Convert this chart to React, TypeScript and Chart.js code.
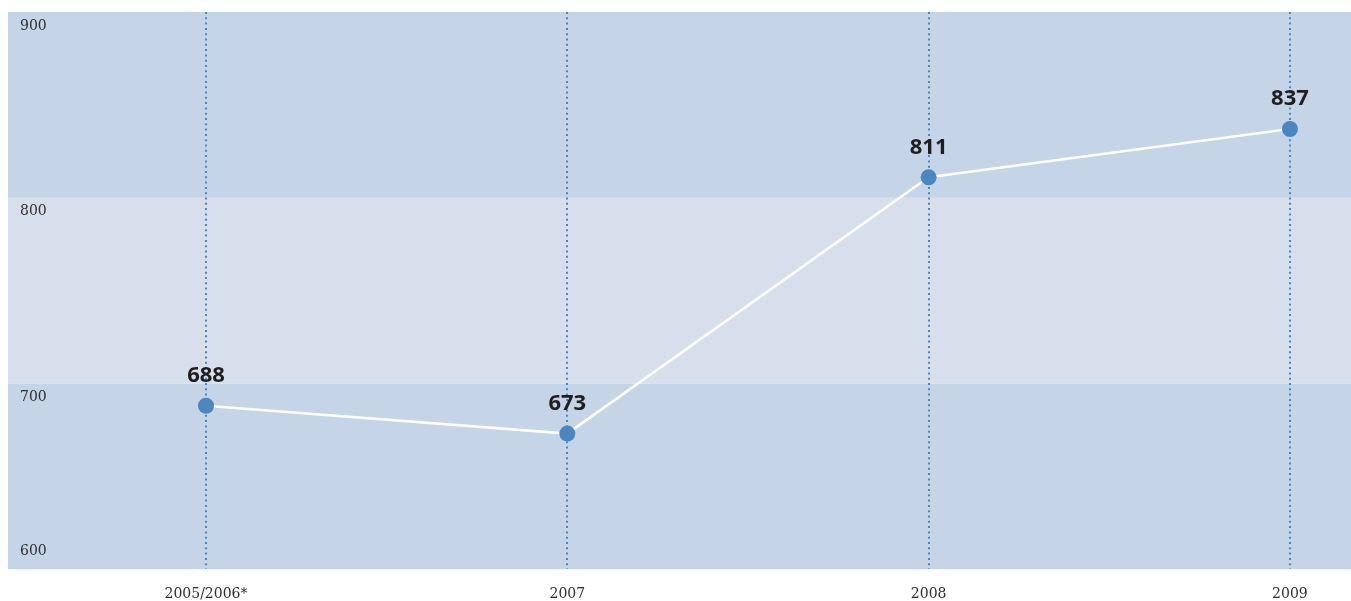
import React, { useEffect, useRef } from "react";
import { Chart, registerables } from "chart.js";

Chart.register(...registerables);

const CATEGORIES = ["2005/2006*", "2007", "2008", "2009"];
const VALUES = [688, 673, 811, 837];
const Y_TICKS = [900, 800, 700, 600];
const BANDS = [
  { from: 600, to: 700, color: "#c5d4e7" },
  { from: 700, to: 800, color: "#d8dfec" },
  { from: 800, to: 900, color: "#c5d4e7" },
];

const bandsPlugin = {
  id: "bands",
  beforeDraw(chart: any) {
    const { ctx } = chart;
    const y = chart.scales.y;
    const x = chart.scales.x;
    ctx.save();
    BANDS.forEach((b) => {
      const top = y.getPixelForValue(b.to);
      const bot = y.getPixelForValue(b.from);
      ctx.fillStyle = b.color;
      ctx.fillRect(x.left, top, x.right - x.left, bot - top);
    });
    ctx.restore();
  },
};

const yLabelsPlugin = {
  id: "yLabels",
  afterDatasetsDraw(chart: any) {
    const { ctx, chartArea } = chart;
    const y = chart.scales.y;
    ctx.save();
    ctx.font = "14px 'DejaVu Serif'";
    ctx.fillStyle = "#2e2e2e";
    ctx.textAlign = "left";
    ctx.textBaseline = "middle";
    Y_TICKS.forEach((t) => {
      let py = y.getPixelForValue(t) + 14;
      py = Math.min(py, chartArea.bottom - 18);
      ctx.fillText(String(t), chartArea.left + 12, py);
    });
    ctx.restore();
  },
};

const dataLabelsPlugin = {
  id: "dataLabels",
  afterDatasetsDraw(chart: any) {
    const { ctx } = chart;
    const meta = chart.getDatasetMeta(0);
    ctx.save();
    ctx.font = "bold 22px 'Open Sans'";
    ctx.fillStyle = "#1e1e1e";
    ctx.textAlign = "center";
    ctx.textBaseline = "middle";
    meta.data.forEach((pt: any, i: number) => {
      ctx.fillText(String(VALUES[i]), pt.x, pt.y - 30);
    });
    ctx.restore();
  },
};

export default function App() {
  const ref = useRef<HTMLCanvasElement>(null);
  useEffect(() => {
    document.documentElement.style.overflow = "hidden";
    document.body.style.marginRight = "0px";
    if (!ref.current) return;
    const chart = new Chart(ref.current, {
      type: "line",
      data: {
        datasets: [
          {
            data: VALUES.map((v, i) => ({ x: i, y: v })),
            borderColor: "#ffffff",
            borderWidth: 2.5,
            pointRadius: 8,
            pointHoverRadius: 8,
            pointBackgroundColor: "#4a86c0",
            pointBorderWidth: 0,
            tension: 0,
            clip: false,
          },
        ],
      },
      options: {
        animation: false,
        responsive: false,
        maintainAspectRatio: false,
        layout: { autoPadding: false, padding: { top: 4, left: 0, right: 0, bottom: -19 } },
        plugins: { legend: { display: false }, tooltip: { enabled: false } },
        scales: {
          x: {
            type: "linear",
            min: -0.548,
            max: 3.169,
            afterBuildTicks: (scale: any) => {
              scale.ticks = CATEGORIES.map((_, i) => ({ value: i }));
            },
            ticks: {
              callback: (v: any) => CATEGORIES[v] ?? "",
              font: { family: "'DejaVu Serif'", size: 14 },
              color: "#2e2e2e",
              padding: 17,
              maxRotation: 0,
              autoSkip: false,
            },
            grid: {
              color: "#4a86c0",
              lineWidth: 2,
              drawTicks: false,
            },
            border: { display: false, dash: [2, 3.3] },
          },
          y: {
            display: false,
            min: 600,
            max: 900,
          },
        },
      },
      plugins: [bandsPlugin, yLabelsPlugin, dataLabelsPlugin],
    });
    return () => chart.destroy();
  }, []);
  return (
    <div style={{ width: 1343, height: 593 }}>
      <canvas ref={ref} width={1343} height={593} style={{ display: "block" }} />
    </div>
  );
}
